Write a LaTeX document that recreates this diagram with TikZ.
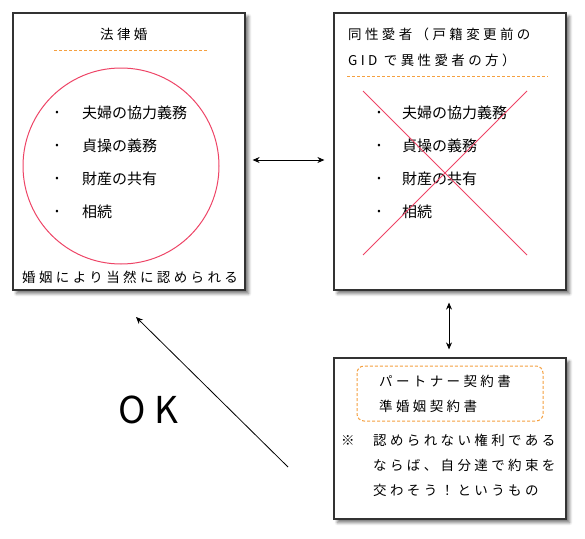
\documentclass[tikz,border=0pt]{standalone}
\usepackage{fontspec}
\setmainfont{Noto Sans CJK JP}
\newfontfamily\jpsp[LetterSpace=25]{Noto Sans CJK JP}
\newfontfamily\jpok[LetterSpace=25]{Noto Sans CJK JP}
\usetikzlibrary{arrows.meta,shadows,shadows.blur,calc}
\definecolor{boxline}{HTML}{333333}
\definecolor{pinkred}{HTML}{EE4466}
\definecolor{dashorange}{HTML}{F5A040}
\tikzset{
  panel/.style={draw=boxline, line width=1.2pt, fill=white, rectangle, inner sep=0,
     blur shadow={shadow xshift=3.5pt, shadow yshift=-3.5pt, shadow blur steps=6, shadow blur radius=3pt, shadow opacity=55}},
  sptext/.style={anchor=west, inner sep=0, font=\jpsp\fontsize{13.5}{16}\selectfont},
  itemtext/.style={anchor=west, inner sep=0, font=\fontsize{15}{18}\selectfont},
  bul/.style={anchor=center, inner sep=0, font=\fontsize{10}{12}\selectfont},
  sepline/.style={draw=dashorange, line width=1pt, dash pattern=on 3pt off 2pt},
  redline/.style={draw=pinkred, line width=1pt},
  arr/.style={draw=black, line width=0.8pt, {Stealth[length=7pt,width=6pt]}-{Stealth[length=7pt,width=6pt]}},
  arrone/.style={draw=black, line width=0.8pt, -{Stealth[length=7pt,width=6pt]}}
}
\begin{document}
\begin{tikzpicture}[x=1pt,y=-1pt]
\useasboundingbox (0,0) rectangle (585,538);
% boxes
\node[panel, minimum width=232pt, minimum height=277pt] (boxA) at (129,151.5) {};
\node[panel, minimum width=232pt, minimum height=277pt] (boxB) at (450,151.5) {};
\node[panel, minimum width=232pt, minimum height=161pt] (boxC) at (450,438.5) {};
% box A
\node[sptext] (titleA) at (100,34) {法律婚};
\draw[sepline] (54,50.5) -- (207,50.5);
\node[draw=pinkred, line width=1pt, circle, minimum size=196pt, inner sep=0] (circ) at (121,166) {};
\foreach \y/\t/\n in {113/夫婦の協力義務/a1,146/貞操の義務/a2,179/財産の共有/a3,212/相続/a4}{
  \node[bul] (b\n) at (57,\y) {•};
  \node[itemtext] (t\n) at (82,\y) {\t};
}
\node[sptext] (bottomA) at (22,277) {婚姻により当然に認められる};
% box B
\node[sptext] (titleB1) at (348,34) {同性愛者（戸籍変更前の};
\node[sptext] (titleB2) at (348,60) {GID で異性愛者の方）};
\draw[sepline] (347,76.5) -- (548,76.5);
\foreach \y/\t/\n in {113/夫婦の協力義務/b1,146/貞操の義務/b2,179/財産の共有/b3,212/相続/b4}{
  \node[bul] (b\n) at (379,\y) {•};
  \node[itemtext] (t\n) at (402,\y) {\t};
}
\draw[redline] (363,91) -- (527,255);
\draw[redline] (527,91) -- (363,255);
% box C
\draw[draw=dashorange, line width=1pt, dash pattern=on 3pt off 2pt, rounded corners=7pt] (357,366) rectangle (543,421);
\node[sptext] (c1) at (379,381) {パートナー契約書};
\node[sptext] (c2) at (379,406) {準婚姻契約書};
\node[sptext] (cmark) at (341,440) {※};
\node[sptext] (c3) at (373,440) {認められない権利である};
\node[sptext] (c4) at (373,465) {ならば、自分達で約束を};
\node[sptext] (c5) at (373,490) {交わそう！というもの};
% arrows
\draw[arr] ($(boxA.east)+(7,8.5)$) -- ($(boxB.west)+(-9,8.5)$);
\draw[arr] ($(boxB.south)+(-1,12)$) -- ($(boxC.north)+(-1,-8)$);
\coordinate (okstart) at (288,467);
\coordinate (oktip) at (136,317);
\draw[arrone] (okstart) -- (oktip);
\node[anchor=west, inner sep=0, font=\jpok\fontsize{37}{40}\selectfont] (ok) at (118,410) {OK};
\end{tikzpicture}
\end{document}
